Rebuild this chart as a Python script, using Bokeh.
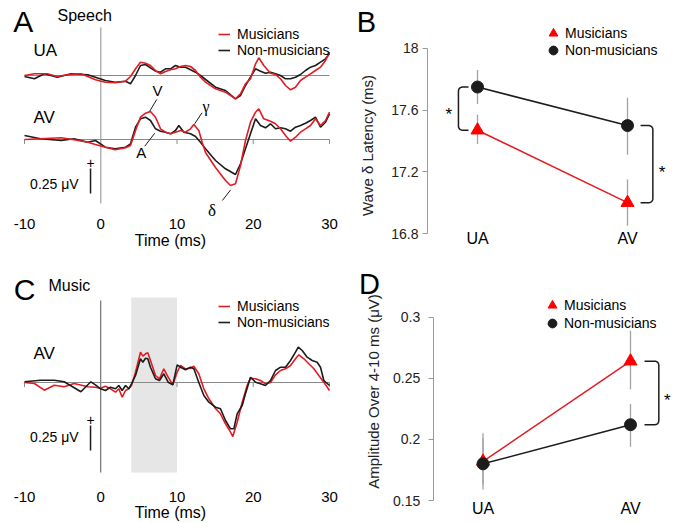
import math
from bokeh.plotting import figure
from bokeh.layouts import column, row
from bokeh.models import Label, Range1d, FixedTicker, Legend, LegendItem
from bokeh.embed import file_html
from bokeh.resources import INLINE

FONT = "Liberation Sans"
SERIF = "Liberation Serif"
RED = "#e31b23"
MARK_RED = "#ff0000"
BLACK = "#1c1c1c"
AXIS_GRAY = "#9a9a9a"
BASE_GRAY = "#8a8a8a"
ERR_GRAY = "#a3a3a3"

# ---------------- data ----------------
time_ticks = [-10, 0, 10, 20, 30]
time_tick_labels = ["-10", "0", "10", "20", "30"]

# Panel A (speech), amplitudes in microvolts
speech_ua_mus_t = [-10, -8.7, -7.0, -5.7, -4.4, -2.6, -1.7, -0.7, 0.6, 1.9, 3.25, 3.9, 4.56, 5.21, 5.87, 6.52,
                   7.18, 7.84, 8.49, 9.15, 9.8, 10.46, 11.11, 11.77, 12.43, 13.08, 13.74, 15.05, 16.36, 17.67,
                   18.33, 18.98, 19.64, 20.3, 20.73, 21.38, 22.26, 22.92, 23.58, 24.23, 24.89, 25.54, 26.2,
                   26.85, 27.51, 28.16, 28.82, 29.48, 30]
speech_ua_mus_uv = [0, 0.017, 0.017, -0.01, 0.007, 0.017, -0.01, -0.043, -0.067, -0.073, -0.057, -0.01, 0.067,
                    0.133, 0.123, 0.10, 0.05, 0.017, 0.04, 0.057, 0.067, 0.09, 0.10, 0.09, 0.05, -0.017, -0.067,
                    -0.133, -0.167, -0.233, -0.183, -0.083, -0.033, 0.117, 0.177, 0.10, 0.023, 0.01, -0.033,
                    -0.10, -0.143, -0.117, -0.05, -0.017, 0.017, 0.05, 0.083, 0.15, 0.233]
speech_ua_non_t = [-10, -8.7, -7.4, -5.7, -3.9, -1.7, -0.7, 0.6, 1.9, 3.25, 3.9, 4.56, 5.21, 5.87, 6.52, 7.18,
                   7.84, 8.49, 9.15, 9.8, 10.46, 11.11, 11.77, 12.43, 13.08, 13.74, 15.05, 16.36, 17.67, 18.33,
                   18.98, 19.64, 20.3, 20.95, 21.61, 22.26, 22.92, 23.58, 24.23, 24.89, 25.54, 26.2, 26.85,
                   27.51, 28.16, 28.82, 29.48, 30]
speech_ua_non_uv = [-0.01, -0.033, 0.017, -0.017, 0.017, 0.007, -0.017, -0.05, -0.067, -0.057, -0.083, 0,
                    0.10, 0.11, 0.077, 0.043, 0.033, 0.067, 0.067, 0.10, 0.083, 0.083, 0.057, 0.033, 0, -0.04,
                    -0.117, -0.15, -0.233, -0.20, -0.10, -0.017, 0.067, 0.043, 0.023, 0.033, 0.017, 0, -0.033,
                    -0.033, -0.017, 0.01, 0.05, 0.083, 0.10, 0.133, 0.167, 0.217]
speech_av_mus_t = [-10, -7.9, -5.2, -3.5, -1.7, -0.7, 0.6, 1.9, 3.25, 3.9, 4.56, 5.21, 5.87, 6.52, 7.18, 7.84,
                   8.49, 9.15, 9.8, 10.46, 11.11, 11.77, 12.21, 12.86, 13.3, 13.74, 15.05, 16.36, 17.02, 17.67,
                   18.33, 18.98, 19.64, 20.3, 20.73, 21.38, 22.26, 22.92, 23.58, 24.23, 24.89, 25.54, 26.2,
                   26.85, 27.51, 28.16, 28.82, 29.48, 30]
speech_av_mus_uv = [0, 0.007, 0.017, -0.003, -0.027, -0.05, -0.077, -0.103, -0.083, -0.06, 0.09, 0.223, 0.263,
                    0.28, 0.223, 0.107, 0.073, 0.057, 0.073, 0.09, 0.073, 0.107, 0.15, 0.09, -0.027, -0.13, -0.28,
                    -0.41, -0.46, -0.443, -0.26, -0.01, 0.173, 0.273, 0.307, 0.207, 0.183, 0.157, 0.107, 0.04,
                    -0.017, 0.023, 0.073, 0.107, 0.14, 0.207, 0.14, 0.19, 0.273]
speech_av_non_t = [-10, -7.9, -5.2, -3.5, -1.7, -0.7, 0.6, 1.9, 3.25, 3.9, 4.56, 5.21, 5.87, 6.52, 7.18, 7.84,
                   8.49, 9.15, 9.8, 10.24, 10.9, 11.77, 12.43, 13.08, 13.74, 15.05, 16.36, 17.67, 18.33, 18.98,
                   19.64, 20.3, 20.95, 21.61, 22.26, 22.92, 23.58, 24.23, 24.89, 25.54, 26.2, 26.85, 27.51,
                   28.16, 28.82, 29.48, 30]
speech_av_non_uv = [0.04, 0.007, -0.01, 0.007, -0.027, -0.01, -0.077, -0.093, -0.077, -0.043, 0.123, 0.207,
                    0.223, 0.19, 0.107, 0.083, 0.073, 0.057, 0.09, 0.14, 0.073, 0.057, 0.03, -0.027, -0.093,
                    -0.21, -0.293, -0.35, -0.243, -0.093, 0.057, 0.207, 0.14, 0.117, 0.157, 0.107, 0.117, 0.107,
                    0.083, 0.123, 0.14, 0.163, 0.19, 0.223, 0.123, 0.173, 0.257]

# Panel C (music, AV)
music_av_mus_t = [-10, -8.7, -7.4, -6.1, -4.8, -3.5, -1.7, -0.69, -0.03, 0.62, 1.28, 1.93, 2.37, 2.81, 3.25,
                  3.68, 4.03, 4.56, 5.21, 5.52, 5.87, 6.17, 6.52, 7.18, 7.7, 8.27, 8.84, 9.45, 10.02, 10.46,
                  11.11, 11.77, 12.21, 12.86, 13.52, 14.18, 15.05, 15.7, 16.36, 17.02, 17.32, 17.89, 18.55,
                  19.2, 19.64, 20.3, 20.95, 21.61, 22.26, 22.92, 23.58, 24.23, 24.89, 25.54, 25.98, 26.64,
                  27.29, 27.95, 28.6, 29.26, 30]
music_av_mus_uv = [0, -0.01, -0.077, -0.027, -0.043, -0.01, -0.043, -0.047, -0.057, -0.037, -0.063, -0.097,
                   -0.063, -0.147, -0.08, -0.063, -0.03, 0.103, 0.303, 0.263, 0.287, 0.297, 0.22, 0.07, 0.037,
                   0.137, 0.053, -0.023, 0.103, 0.17, 0.137, 0.143, 0.163, 0.087, -0.063, -0.163, -0.26, -0.313,
                   -0.413, -0.497, -0.54, -0.397, -0.197, -0.03, 0.043, 0.037, 0.02, -0.013, 0, 0.077, 0.12,
                   0.137, 0.17, 0.237, 0.277, 0.237, 0.187, 0.137, 0.07, 0.003, -0.08]
music_av_non_t = [-10, -7.9, -6.1, -4.8, -2.6, -1.3, -0.69, -0.03, 0.62, 1.28, 1.93, 2.37, 2.81, 3.25, 3.68,
                  4.03, 4.56, 5.21, 5.52, 5.87, 6.17, 6.52, 7.18, 7.7, 8.27, 8.84, 9.45, 10.02, 10.46, 11.11,
                  11.77, 12.21, 12.86, 13.52, 14.18, 15.05, 15.7, 16.36, 17.02, 17.45, 17.89, 18.55, 18.98,
                  19.64, 20.3, 20.95, 21.61, 22.26, 22.92, 23.58, 24.23, 24.89, 25.54, 25.9, 26.42, 27.07,
                  27.73, 28.38, 28.82, 29.26, 30]
music_av_non_uv = [0.007, 0.023, 0.023, 0.007, -0.093, 0.007, -0.023, -0.063, -0.08, -0.047, -0.063, -0.03,
                   -0.08, -0.03, -0.063, -0.013, 0.07, 0.237, 0.203, 0.243, 0.237, 0.153, 0.037, 0.02, 0.087,
                   0.003, -0.023, 0.177, 0.153, 0.127, 0.153, 0.137, 0, -0.13, -0.197, -0.247, -0.263, -0.38,
                   -0.463, -0.463, -0.313, -0.23, -0.113, 0.053, 0.003, -0.013, -0.03, 0.02, 0.12, 0.153, 0.153,
                   0.22, 0.303, 0.353, 0.32, 0.253, 0.22, 0.203, 0.153, 0.02, -0.03]

groups = ["Musicians", "Non-musicians"]
conditions = ["UA", "AV"]

# Panel B: wave delta latency (ms)
latency_ticks = [16.8, 17.2, 17.6, 18.0]
latency_tick_labels = ["16.8", "17.2", "17.6", "18"]
latency_mus = [17.47, 17.00]
latency_mus_lo = [17.38, 16.85]
latency_mus_hi = [17.57, 17.15]
latency_non = [17.75, 17.50]
latency_non_lo = [17.64, 17.31]
latency_non_hi = [17.86, 17.68]

# Panel D: amplitude over 4-10 ms (uV)
amp_ticks = [0.15, 0.20, 0.25, 0.30]
amp_tick_labels = ["0.15", "0.2", "0.25", "0.3"]
amp_mus = [0.182, 0.264]
amp_mus_lo = [0.163, 0.241]
amp_mus_hi = [0.201, 0.289]
amp_non = [0.180, 0.212]
amp_non_lo = [0.159, 0.194]
amp_non_hi = [0.205, 0.229]

UA_OFFSET = 0.64      # vertical display offset of the UA traces
SCALE_UV = 0.25       # scale bar
ONSET_MS = 0
WINDOW_MS = (4, 10)


# ---------------- helpers ----------------
def label(p, x, y, text, size, align="left", font=FONT, color="black", angle=0.0):
    p.add_layout(Label(x=x, y=y, text=text, text_font=font, text_font_size=f"{size}px",
                       text_align=align, text_baseline="middle", text_color=color, angle=angle))


def base_fig(width, height, xr, yr):
    p = figure(width=width, height=height, x_range=Range1d(*xr), y_range=Range1d(*yr),
               output_backend="svg", toolbar_location=None, min_border=0)
    p.outline_line_color = None
    p.grid.visible = False
    return p


def trace_panel(height, yr, axis_y, tick_standoff, title_standoff):
    p = base_fig(340, height, (-13.148, 31.443), yr)
    p.yaxis.visible = False
    ax = p.xaxis[0]
    ax.fixed_location = axis_y
    ax.ticker = FixedTicker(ticks=time_ticks)
    ax.major_label_overrides = dict(zip(time_ticks, time_tick_labels))
    ax.axis_line_color = None
    ax.major_tick_line_color = None
    ax.minor_tick_line_color = None
    ax.major_tick_out = 0
    ax.major_tick_in = 0
    ax.major_label_standoff = tick_standoff
    ax.major_label_text_font = FONT
    ax.major_label_text_font_size = "15px"
    ax.major_label_text_color = "black"
    ax.axis_label = "Time (ms)"
    ax.axis_label_standoff = title_standoff
    ax.axis_label_text_font = FONT
    ax.axis_label_text_font_size = "16px"
    ax.axis_label_text_font_style = "normal"
    ax.axis_label_text_color = "black"
    return p


def line_legend(p, items, vx, vy):
    lg = Legend(items=[LegendItem(label=t, renderers=[r]) for t, r in items], location=(vx, vy),
                padding=0, margin=0, spacing=0, glyph_width=12, glyph_height=16, label_height=16,
                label_standoff=7, border_line_alpha=0, background_fill_alpha=0,
                label_text_font=FONT, label_text_font_size="14px", label_text_color="black")
    p.add_layout(lg)


def marker_legend(p, renderer, text, vx, vy):
    lg = Legend(items=[LegendItem(label=text, renderers=[renderer])], location=(vx, vy),
                padding=0, margin=0, spacing=0, glyph_width=22, glyph_height=22, label_height=22,
                label_standoff=1, border_line_alpha=0, background_fill_alpha=0,
                label_text_font=FONT, label_text_font_size="14px", label_text_color="black")
    p.add_layout(lg)


def bracket(x_arm, x_vert, y_top, y_bot, rx, ry, n=6):
    s = 1 if x_arm > x_vert else -1
    cx = x_vert + s * rx
    xs, ys = [x_arm], [y_top]
    ct = y_top - ry
    for i in range(n + 1):
        a = math.pi / 2 * i / n
        xs.append(cx - s * rx * math.sin(a))
        ys.append(ct + ry * math.cos(a))
    cb = y_bot + ry
    for i in range(n + 1):
        a = math.pi / 2 + math.pi / 2 * i / n
        xs.append(cx - s * rx * math.sin(a))
        ys.append(cb + ry * math.cos(a))
    xs.append(x_arm)
    ys.append(y_bot)
    return xs, ys


def summary_panel(height, xr, yr, axis_x, ticks, tick_labels, tick_standoff, cat_standoff):
    p = base_fig(334, height, xr, yr)
    ay = p.yaxis[0]
    ay.fixed_location = axis_x
    ay.ticker = FixedTicker(ticks=ticks)
    ay.major_label_overrides = dict(zip(ticks, tick_labels))
    ay.bounds = (ticks[0], ticks[-1])
    ay.axis_line_color = AXIS_GRAY
    ay.axis_line_width = 1
    ay.major_tick_line_color = AXIS_GRAY
    ay.minor_tick_line_color = None
    ay.major_tick_out = 5
    ay.major_tick_in = 0
    ay.major_label_standoff = tick_standoff
    ay.major_label_text_font = FONT
    ay.major_label_text_font_size = "14px"
    ay.major_label_text_color = "#222222"
    xpos = [i + 1 for i in range(len(conditions))]
    ax = p.xaxis[0]
    ax.fixed_location = ticks[0]
    ax.ticker = FixedTicker(ticks=xpos)
    ax.major_label_overrides = dict(zip(xpos, conditions))
    ax.axis_line_color = None
    ax.major_tick_line_color = None
    ax.minor_tick_line_color = None
    ax.major_tick_out = 0
    ax.major_tick_in = 0
    ax.major_label_standoff = cat_standoff
    ax.major_label_text_font = FONT
    ax.major_label_text_font_size = "16px"
    ax.major_label_text_color = "black"
    return p, xpos


# ---------------- Panel A ----------------
pA = trace_panel(262, (-1.23, 1.39), -0.70, 9, 0)
pA.line([ONSET_MS, ONSET_MS], [1.12, -0.64], line_color="#b3b3b3", line_width=1.5)
pA.line([time_ticks[0], time_ticks[-1]], [UA_OFFSET, UA_OFFSET], line_color=BASE_GRAY, line_width=1)
pA.line([time_ticks[0], time_ticks[-1]], [0, 0], line_color=BASE_GRAY, line_width=1)
tk = [t for t in time_ticks if t != ONSET_MS]
pA.segment(x0=tk, y0=[0] * len(tk), x1=tk, y1=[-0.045] * len(tk), line_color=BASE_GRAY, line_width=1)
rA_non = pA.line(speech_ua_non_t, [v + UA_OFFSET for v in speech_ua_non_uv], line_color=BLACK, line_width=1.6)
pA.line(speech_av_non_t, speech_av_non_uv, line_color=BLACK, line_width=1.6)
rA_mus = pA.line(speech_ua_mus_t, [v + UA_OFFSET for v in speech_ua_mus_uv], line_color=RED, line_width=1.6)
pA.line(speech_av_mus_t, speech_av_mus_uv, line_color=RED, line_width=1.6)
# scale bar
pA.segment(x0=[-1.34], y0=[-0.29], x1=[-1.34], y1=[-0.29 - SCALE_UV], line_color=BLACK, line_width=1.5)
label(pA, -1.34, -0.235, "+", 14, align="center")
label(pA, -2.9, -0.44, "0.25 \u03bcV", 14, align="right")
# peak annotations
pA.segment(x0=[6.42, 5.77, 12.32, 15.95], y0=[0.283, -0.067, 0.157, -0.61],
           x1=[7.34, 7.08, 13.28, 17.04], y1=[0.40, 0.063, 0.267, -0.503], line_color=BLACK, line_width=1)
label(pA, 7.45, 0.49, "V", 15, align="center")
label(pA, 5.3, -0.13, "A", 15, align="center")
label(pA, 13.8, 0.33, "\u03b3", 16, align="center", font=SERIF)
label(pA, 14.6, -0.71, "\u03b4", 17, align="center", font=SERIF)
label(pA, -10.16, 1.18, "A", 30, align="center")
label(pA, -5.67, 1.24, "Speech", 16)
label(pA, -8.82, 0.89, "UA", 17)
label(pA, -8.82, 0.22, "AV", 17)
line_legend(pA, [(groups[0], rA_mus), (groups[1], rA_non)], 218, 204)

# ---------------- Panel C ----------------
pC = trace_panel(261, (-1.41, 1.20), -1.00, 9, -1)
pC.quad(left=[WINDOW_MS[0]], right=[WINDOW_MS[1]], bottom=[-0.90], top=[0.85],
        fill_color="#e6e6e6", line_color=None)
pC.line([ONSET_MS, ONSET_MS], [0.82, -0.90], line_color="#555555", line_width=1)
pC.line([time_ticks[0], time_ticks[-1]], [0, 0], line_color=BASE_GRAY, line_width=1)
pC.segment(x0=tk, y0=[0] * len(tk), x1=tk, y1=[-0.045] * len(tk), line_color=BASE_GRAY, line_width=1)
rC_mus = pC.line(music_av_mus_t, music_av_mus_uv, line_color=RED, line_width=1.6)
rC_non = pC.line(music_av_non_t, music_av_non_uv, line_color=BLACK, line_width=1.6)
pC.segment(x0=[-1.34], y0=[-0.43], x1=[-1.34], y1=[-0.43 - SCALE_UV], line_color=BLACK, line_width=1.5)
label(pC, -1.34, -0.375, "+", 14, align="center")
label(pC, -2.9, -0.54, "0.25 \u03bcV", 14, align="right")
label(pC, -9.99, 0.935, "C", 30, align="center")
label(pC, -6.85, 0.97, "Music", 16)
label(pC, -8.82, 0.29, "AV", 17)
line_legend(pC, [(groups[0], rC_mus), (groups[1], rC_non)], 218, 193)

# ---------------- Panel B ----------------
pB, xB = summary_panel(262, (0.0867, 2.3133), (16.6119, 18.3113), 0.6667,
                       latency_ticks, latency_tick_labels, 4, -4)
pB.segment(x0=xB, y0=latency_non_lo, x1=xB, y1=latency_non_hi, line_color=ERR_GRAY, line_width=1.3)
pB.segment(x0=xB, y0=latency_mus_lo, x1=xB, y1=latency_mus_hi, line_color=ERR_GRAY, line_width=1.3)
pB.line(xB, latency_non, line_color=BLACK, line_width=1.5)
pB.line(xB, latency_mus, line_color=RED, line_width=1.5)
rB_mus = pB.scatter(xB, latency_mus, marker="triangle", size=13, fill_color=MARK_RED, line_color=MARK_RED)
rB_non = pB.scatter(xB, latency_non, marker="circle", size=12, fill_color=BLACK, line_color=BLACK)
bx, by = bracket(0.94, 0.873, latency_non[0], latency_mus[0], 0.027, 0.026)
pB.line(bx, by, line_color=BLACK, line_width=1.5)
bx, by = bracket(2.087, 2.169, latency_non[1], latency_mus[1], 0.027, 0.026)
pB.line(bx, by, line_color=BLACK, line_width=1.5)
label(pB, 0.809, 17.572, "*", 17, align="center")
label(pB, 2.231, 17.194, "*", 17, align="center")
label(pB, 0.26, 18.169, "B", 29, align="center")
label(pB, 0.2667, 17.371, "Wave \u03b4 Latency (ms)", 15, align="center", color="#222222", angle=math.pi / 2)
marker_legend(pB, rB_mus, groups[0], 202, 218)
marker_legend(pB, rB_non, groups[1], 202, 201)

# ---------------- Panel D ----------------
pD, xD = summary_panel(261, (0.0339, 2.2983), (0.13118, 0.34476), 0.6624,
                       amp_ticks, amp_tick_labels, 8, -1)
pD.segment(x0=xD, y0=amp_mus_lo, x1=xD, y1=amp_mus_hi, line_color=ERR_GRAY, line_width=1.3)
pD.segment(x0=xD, y0=amp_non_lo, x1=xD, y1=amp_non_hi, line_color=ERR_GRAY, line_width=1.3)
pD.line(xD, amp_non, line_color=BLACK, line_width=1.5)
pD.line(xD, amp_mus, line_color=RED, line_width=1.5)
rD_mus = pD.scatter(xD, amp_mus, marker="triangle", size=13, fill_color=MARK_RED, line_color=MARK_RED)
rD_non = pD.scatter(xD, amp_non, marker="circle", size=12, fill_color=BLACK, line_color=BLACK)
bx, by = bracket(2.095, 2.192, amp_mus[1], amp_non[1], 0.027, 0.0033)
pD.line(bx, by, line_color=BLACK, line_width=1.5)
label(pD, 2.249, 0.2318, "*", 17, align="center")
label(pD, 0.2305, 0.3268, "D", 29, align="center")
label(pD, 0.2576, 0.2392, "Amplitude Over 4-10 ms (\u03bcV)", 15, align="center", color="#222222",
      angle=math.pi / 2)
marker_legend(pD, rD_mus, groups[0], 201, 207)
marker_legend(pD, rD_non, groups[1], 201, 189)

layout = column(row(pA, pB), row(pC, pD))
open("out.html", "w").write(file_html(layout, INLINE))
